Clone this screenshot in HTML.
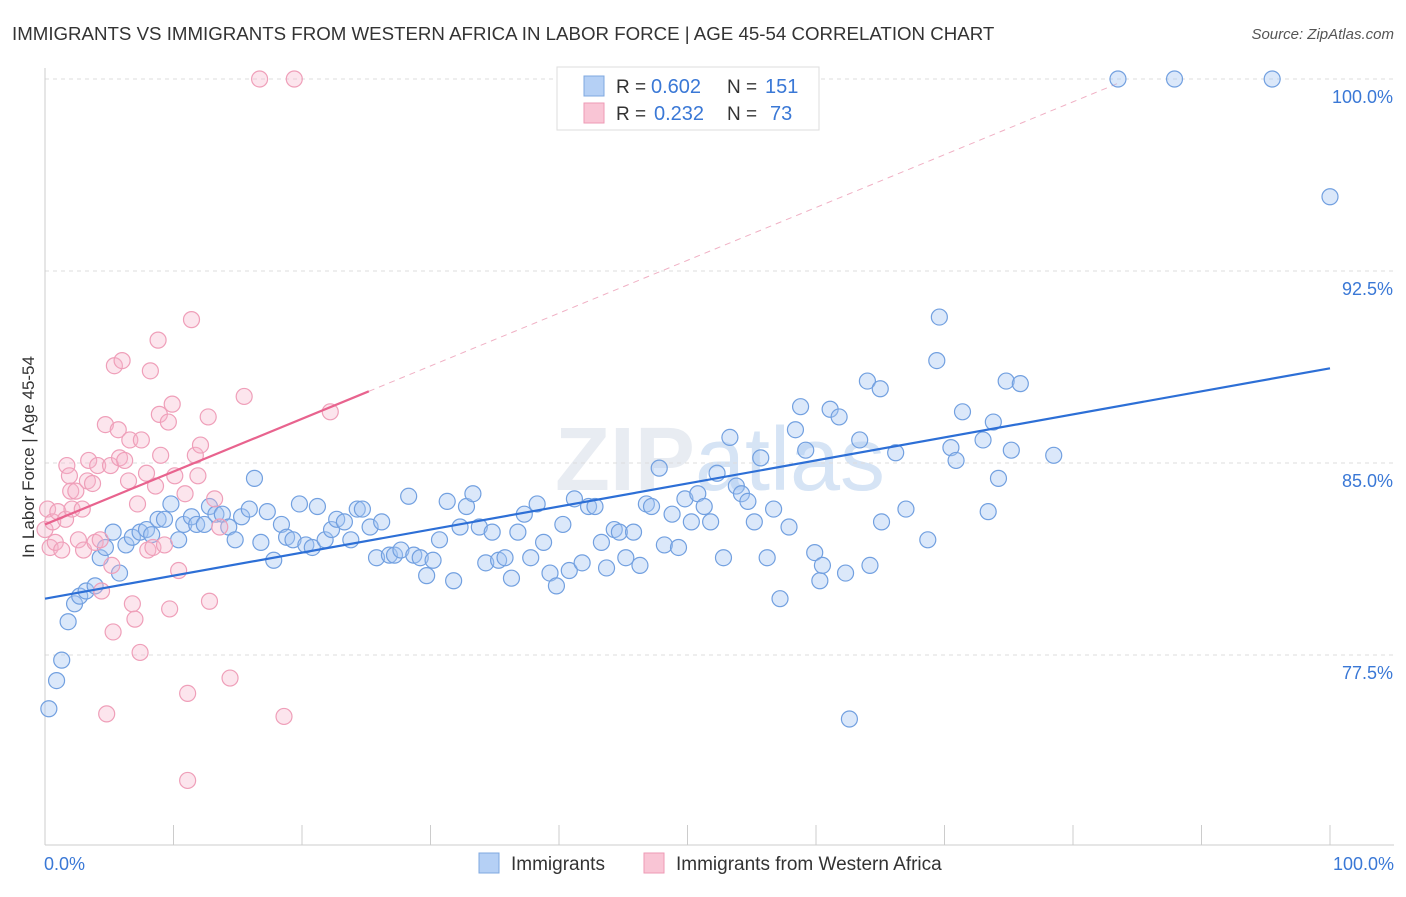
<!DOCTYPE html>
<html><head><meta charset="utf-8">
<style>
body{margin:0;background:#fff;font-family:"Liberation Sans",sans-serif;}
svg text{font-family:"Liberation Sans",sans-serif;}
</style></head>
<body>
<svg id="chart" width="1406" height="892" viewBox="0 0 1406 892" xmlns="http://www.w3.org/2000/svg">
<text x="12" y="40" font-size="18.7" fill="#333">IMMIGRANTS VS IMMIGRANTS FROM WESTERN AFRICA IN LABOR FORCE | AGE 45-54 CORRELATION CHART</text>
<text x="1394" y="39" font-size="15" fill="#555" text-anchor="end" font-style="italic">Source: ZipAtlas.com</text>
<text x="720" y="490" font-size="90" fill="#e8ecf2" text-anchor="middle" font-weight="bold">ZIP<tspan fill="#d6e4f5" font-weight="normal">atlas</tspan></text>
<g id="grid"></g>
<g id="axes"></g>
<g id="trend"></g>
<g id="pts"></g>
<text transform="translate(34,457) rotate(-90)" font-size="17" fill="#333" text-anchor="middle">In Labor Force | Age 45-54</text>
<g>
<rect x="557" y="67" width="262" height="63" fill="#fff" stroke="#ddd"/>
<rect x="584" y="76" width="20" height="20" fill="#b5d0f5" stroke="#7fa8e0"/>
<rect x="584" y="103" width="20" height="20" fill="#f9c5d5" stroke="#ee9ab5"/>
<text x="616" y="93" font-size="19" fill="#333">R =</text>
<text x="651" y="93" font-size="20" fill="#3a78d6">0.602</text>
<text x="727" y="93" font-size="19" fill="#333">N =</text>
<text x="765" y="93" font-size="20" fill="#3a78d6">151</text>
<text x="616" y="120" font-size="19" fill="#333">R =</text>
<text x="654" y="120" font-size="20" fill="#3a78d6">0.232</text>
<text x="727" y="120" font-size="19" fill="#333">N =</text>
<text x="770" y="120" font-size="20" fill="#3a78d6">73</text>
</g>
<g>
<rect x="479" y="853" width="20" height="20" fill="#b5d0f5" stroke="#7fa8e0"/>
<text x="511" y="870" font-size="19" fill="#333">Immigrants</text>
<rect x="644" y="853" width="20" height="20" fill="#f9c5d5" stroke="#ee9ab5"/>
<text x="676" y="870" font-size="19" fill="#333">Immigrants from Western Africa</text>
</g>
</svg>
<script>
const xTickLabels=["0.0%","100.0%"];
const yTicks=[77.5,85.0,92.5,100.0];
const yTickLabels=["77.5%","85.0%","92.5%","100.0%"];
const blueX=[0.3,0.9,1.3,1.8,2.3,2.7,3.2,3.9,4.3,4.7,5.3,5.8,6.3,6.8,7.4,7.9,8.3,8.8,9.3,9.8,10.4,10.8,11.4,11.8,12.4,12.8,13.3,13.8,14.3,14.8,15.3,15.9,16.3,16.8,17.3,17.8,18.4,18.8,19.3,19.8,20.3,20.8,21.2,21.8,22.3,22.7,23.3,23.8,24.3,24.7,25.3,25.8,26.2,26.8,27.2,27.7,28.3,28.7,29.2,29.7,30.2,30.7,31.3,31.8,32.3,32.8,33.3,33.8,34.3,34.8,35.3,35.8,36.3,36.8,37.3,37.8,38.3,38.8,39.3,39.8,40.3,40.8,41.2,41.8,42.3,42.8,43.3,43.7,44.3,44.7,45.2,45.8,46.3,46.8,47.2,47.8,48.2,48.8,49.3,49.8,50.3,50.8,51.3,51.8,52.3,52.8,53.3,53.8,54.2,54.7,55.2,55.7,56.2,56.7,57.2,57.9,58.4,58.8,59.2,59.9,60.3,60.5,61.1,61.8,62.3,62.6,63.4,64.2,64.0,65.0,65.1,66.2,67.0,68.7,69.4,69.6,70.5,70.9,71.4,73.0,73.4,73.8,74.2,74.8,75.2,75.9,78.5,83.5,87.9,95.5,100];
const blueY=[75.4,76.5,77.3,78.8,79.5,79.8,80.0,80.2,81.3,81.7,82.3,80.7,81.8,82.1,82.3,82.4,82.2,82.8,82.8,83.4,82.0,82.6,82.9,82.6,82.6,83.3,83.0,83.0,82.5,82.0,82.9,83.2,84.4,81.9,83.1,81.2,82.6,82.1,82.0,83.4,81.8,81.7,83.3,82.0,82.4,82.8,82.7,82.0,83.2,83.2,82.5,81.3,82.7,81.4,81.4,81.6,83.7,81.4,81.3,80.6,81.2,82.0,83.5,80.4,82.5,83.3,83.8,82.5,81.1,82.3,81.2,81.3,80.5,82.3,83.0,81.3,83.4,81.9,80.7,80.2,82.6,80.8,83.6,81.1,83.3,83.3,81.9,80.9,82.4,82.3,81.3,82.3,81.0,83.4,83.3,84.8,81.8,83.0,81.7,83.6,82.7,83.8,83.3,82.7,84.6,81.3,86.0,84.1,83.8,83.5,82.7,85.2,81.3,83.2,79.7,82.5,86.3,87.2,85.5,81.5,80.4,81.0,87.1,86.8,80.7,75.0,85.9,81.0,88.2,87.9,82.7,85.4,83.2,82.0,89.0,90.7,85.6,85.1,87.0,85.9,83.1,86.6,84.4,88.2,85.5,88.1,85.3,100,100,100,95.4];
const pinkX=[0.0,0.2,0.4,0.6,0.8,1.0,1.3,1.6,1.7,1.9,2.0,2.1,2.4,2.6,2.9,3.0,3.3,3.4,3.7,3.9,4.1,4.3,4.4,4.7,5.1,5.2,5.3,5.4,5.7,5.8,6.0,6.2,6.5,6.6,6.8,7.0,7.2,7.4,7.5,7.9,8.0,8.2,8.4,8.6,8.8,8.9,9.0,9.3,9.6,9.7,9.9,10.1,10.4,10.9,11.1,11.1,11.4,11.7,11.9,12.1,12.7,12.8,13.2,13.6,14.4,15.5,16.7,18.6,19.4,22.2,4.8];
const pinkY=[82.4,83.2,81.7,82.7,81.9,83.1,81.6,82.8,84.9,84.5,83.9,83.2,83.9,82.0,83.2,81.6,84.3,85.1,84.2,81.9,84.9,82.0,80.0,86.5,84.9,81.0,78.4,88.8,86.3,85.2,89.0,85.1,84.3,85.9,79.5,78.9,83.4,77.6,85.9,84.6,81.6,88.6,81.7,84.1,89.8,86.9,85.3,81.8,86.6,79.3,87.3,84.5,80.8,83.8,76.0,72.6,90.6,85.3,84.5,85.7,86.8,79.6,83.6,82.5,76.6,87.6,100,75.1,100,87.0,75.2];
const blueTrend=[79.7,88.7];
const pinkTrend=[82.6,87.8];
const pinkTrendEnd=25.2;
const pinkDashEnd=83.6;

const NS="http://www.w3.org/2000/svg";
const X0=45,X1=1330,YTOP=79,PXPER=25.6,AXISY=845;
function xs(v){return X0+(X1-X0)*v/100;}
function ys(v){return YTOP+(100-v)*PXPER;}
function mk(tag,attrs,parent){const e=document.createElementNS(NS,tag);for(const k in attrs)e.setAttribute(k,attrs[k]);parent.appendChild(e);return e;}
const grid=document.getElementById('grid'),axes=document.getElementById('axes'),trend=document.getElementById('trend'),pts=document.getElementById('pts');
yTicks.forEach((t,i)=>{
  const l=mk('line',{x1:X0,x2:1394,y1:ys(t),y2:ys(t),stroke:'#ddd','stroke-dasharray':'4,4'},grid);
  
  
  const tx=mk('text',{x:1393,y:ys(t)+24,'font-size':18,fill:'#3a78d6','text-anchor':'end'},axes);
  tx.textContent=yTickLabels[i];
  
  
});
const ax=mk('line',{x1:X0,x2:1394,y1:AXISY,y2:AXISY,stroke:'#ccc'},axes);


const ay=mk('line',{x1:X0,x2:X0,y1:68,y2:AXISY,stroke:'#ccc'},axes);


for(let i=0;i<=10;i++){
  const t=mk('line',{x1:xs(i*10),x2:xs(i*10),y1:825,y2:AXISY,stroke:'#ccc'},axes);
  
  
}
[[0,'start',44],[100,'end',1394]].forEach((d,i)=>{
  const tx=mk('text',{x:d[2],y:870,'font-size':18,fill:'#3a78d6','text-anchor':d[1]},axes);
  tx.textContent=xTickLabels[i];
  
  
});
const pd=mk('line',{x1:xs(pinkTrendEnd),y1:ys(pinkTrend[1]),x2:xs(pinkDashEnd),y2:ys(pinkTrend[0]+(pinkTrend[1]-pinkTrend[0])*pinkDashEnd/pinkTrendEnd),stroke:'#f0b0c4','stroke-dasharray':'6,5','stroke-width':1},trend);


blueX.forEach((v,i)=>{
  const c=mk('circle',{cx:xs(v),cy:ys(blueY[i]),r:8,fill:'rgba(165,198,242,0.4)',stroke:'#72a0e0','stroke-width':1.2},pts);
  
  
});
pinkX.forEach((v,i)=>{
  const c=mk('circle',{cx:xs(v),cy:ys(pinkY[i]),r:8,fill:'rgba(247,180,202,0.35)',stroke:'#ef9fb9','stroke-width':1.2},pts);
  
  
});
const bt=mk('line',{x1:xs(0),y1:ys(blueTrend[0]),x2:xs(100),y2:ys(blueTrend[1]),stroke:'#2d6fd6','stroke-width':2.2},pts);


const pt=mk('line',{x1:xs(0),y1:ys(pinkTrend[0]),x2:xs(pinkTrendEnd),y2:ys(pinkTrend[1]),stroke:'#e8638e','stroke-width':2.2},pts);


</script>
</body></html>
